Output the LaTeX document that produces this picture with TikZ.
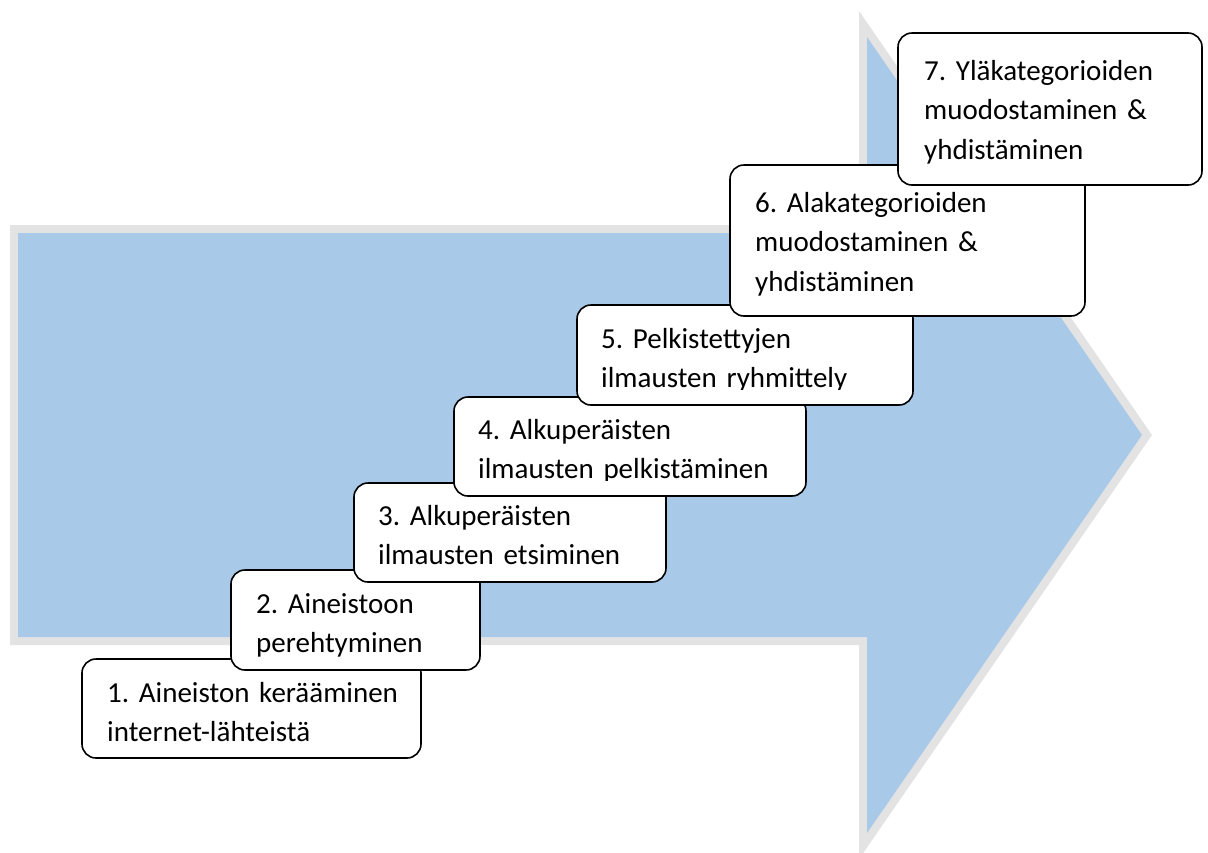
\documentclass[tikz,border=0pt]{standalone}
\usepackage{fontspec}
\setmainfont{Carlito}
\definecolor{pfeilblau}{RGB}{169,201,232}
\definecolor{pfeilgrau}{RGB}{227,227,227}
\tikzset{
	stepbox/.style={draw=black, line width=1.6pt, fill=white, rounded corners=14pt},
	steptext/.style={anchor=base west, inner sep=0pt, text width=340pt, align=left,
		font=\fontsize{29}{39.5}\selectfont\frenchspacing}
}
\begin{document}
\begin{tikzpicture}[x=1pt, y=-1pt]
	\useasboundingbox (0,0) rectangle (1208,852);
	\clip (0,0) rectangle (1208,852);
	% Pfeil im Hintergrund
	\fill[pfeilgrau] (10,225) -- (859,225) -- (859,11) -- (1152,435) -- (859,859)
	-- (859,645) -- (10,645) -- cycle;
	\fill[pfeilblau] (18,233) -- (867,233) -- (867,37) -- (1142,435) -- (867,833)
	-- (867,637) -- (18,637) -- cycle;

	% Schritte 1 bis 7
	\filldraw[stepbox] (82,659) rectangle (421,758);
	\begin{scope}
		\clip (82,659) rectangle (421,743);
		\node[steptext] (s1) at (107,702) {1. Aineiston kerääminen\\internet-lähteistä};
	\end{scope}
	\filldraw[stepbox] (231,570) rectangle (480,670);
	\begin{scope}
		\clip (231,570) rectangle (480,656);
		\node[steptext] (s2) at (256,613) {2. Aineistoon\\perehtyminen};
	\end{scope}
	\filldraw[stepbox] (354,483) rectangle (666,582);
	\begin{scope}
		\clip (354,483) rectangle (666,567);
		\node[steptext] (s3) at (378,525) {3. Alkuperäisten\\ilmausten etsiminen};
	\end{scope}
	\filldraw[stepbox] (454,397) rectangle (806,496);
	\begin{scope}
		\clip (454,397) rectangle (806,480);
		\node[steptext] (s4) at (478,439) {4. Alkuperäisten\\ilmausten pelkistäminen};
	\end{scope}
	\filldraw[stepbox] (577,305) rectangle (913,405);
	\begin{scope}
		\clip (577,305) rectangle (913,389);
		\node[steptext] (s5) at (601,348) {5. Pelkistettyjen\\ilmausten ryhmittely};
	\end{scope}
	\filldraw[stepbox] (730,165) rectangle (1085,316);
	\node[steptext] (s6) at (755,212) {6. Alakategorioiden\\muodostaminen \&\\yhdistäminen};
	\filldraw[stepbox] (898,33) rectangle (1202,185);
	\node[steptext] (s7) at (924,80) {7. Yläkategorioiden\\muodostaminen \&\\yhdistäminen};
\end{tikzpicture}
\end{document}
